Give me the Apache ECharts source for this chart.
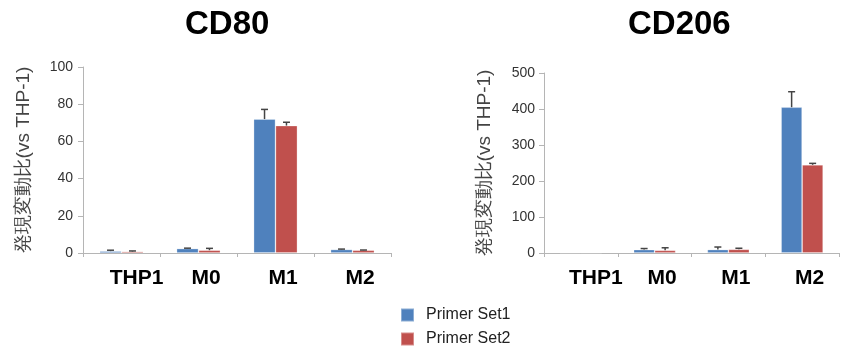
<!DOCTYPE html>
<html>
<head>
<meta charset="utf-8">
<script src="https://cdn.jsdelivr.net/npm/echarts@6/dist/echarts.min.js"></script>
<style>
  html, body { margin: 0; padding: 0; background: #fff; }
  #chart { width: 843px; height: 347px; }
</style>
</head>
<body>
<div id="chart"></div>
<script>
// ---- data ----
const categories = ['THP1', 'M0', 'M1', 'M2'];
const seriesNames = ['Primer Set1', 'Primer Set2'];

const cd80Set1 = [1.0, 2.4, 72.0, 1.9];
const cd80Set2 = [0.8, 1.5, 68.5, 1.5];
const cd80Err1 = [0.5, 0.2, 5.2, 0.2];
const cd80Err2 = [0.3, 1.0, 1.8, 0.1];

const cd206Set1 = [1.0, 9.4, 9.6, 405];
const cd206Set2 = [1.0, 7.5, 10.2, 245];
const cd206Err1 = [0, 3.0, 7.0, 43];
const cd206Err2 = [0, 7.0, 3.0, 4];

const cd80Ticks = { min: 0, max: 100, interval: 20 };
const cd206Ticks = { min: 0, max: 500, interval: 100 };

const titles = ['CD80', 'CD206'];
const yAxisName = '発現変動比(vs THP-1)';

// ---- styling ----
const BLUE = '#4F81BD';
const RED = '#C0504D';
const BAR_FRAC = 0.285;
const FONT = 'Liberation Sans, Arial, Helvetica, sans-serif';

const chart = echarts.init(document.getElementById('chart'), null, { renderer: 'canvas' });

function errRender(sideSign) {
  return function (params, api) {
    const xi = api.value(0);
    const v = api.value(1);
    const e = api.value(2);
    if (!(e > 0)) return null;
    const base = api.coord([xi, v]);
    const top = api.coord([xi, v + e]);
    const band = api.size([1, 0])[0];
    const bw = band * BAR_FRAC;
    const cx = base[0] + sideSign * bw / 2;
    const cap = 3.5;
    return {
      type: 'group',
      children: [
        { type: 'line', shape: { x1: cx, y1: base[1], x2: cx, y2: top[1] },
          style: { stroke: '#444', lineWidth: 1.5 } },
        { type: 'line', shape: { x1: cx - cap, y1: top[1], x2: cx + cap, y2: top[1] },
          style: { stroke: '#444', lineWidth: 1.5 } }
      ]
    };
  };
}

const labelRich = {
  t: { fontSize: 21, fontWeight: 'bold', color: '#000', fontFamily: FONT, padding: [0, 0, 0, 30] },
  n: { fontSize: 21, fontWeight: 'bold', color: '#000', fontFamily: FONT, padding: [0, 0, 0, 15] }
};

function xAxis(gridIndex) {
  return {
    type: 'category',
    gridIndex: gridIndex,
    data: categories,
    axisLine: { lineStyle: { color: '#b5b5b5', width: 1 } },
    axisTick: { show: true, length: 4, lineStyle: { color: '#b5b5b5' } },
    axisLabel: {
      margin: 15,
      formatter: function (v, i) { return (i === 0 ? '{t|' : '{n|') + v + '}'; },
      rich: labelRich
    },
    splitLine: { show: false }
  };
}

function yAxis(gridIndex, ticks, labelMargin) {
  return {
    type: 'value',
    gridIndex: gridIndex,
    min: ticks.min, max: ticks.max, interval: ticks.interval,
    name: yAxisName,
    nameLocation: 'middle',
    nameGap: 50,
    nameRotate: 90,
    nameTextStyle: { fontSize: 19, color: '#444', fontFamily: FONT },
    axisLine: { show: true, lineStyle: { color: '#b5b5b5', width: 1 } },
    axisTick: { show: true, length: 5, lineStyle: { color: '#b5b5b5' } },
    axisLabel: { fontSize: 14, color: '#333', fontFamily: FONT, margin: labelMargin },
    splitLine: { show: false }
  };
}

function barSeries(name, data, idx, color) {
  return {
    name: name, type: 'bar', xAxisIndex: idx, yAxisIndex: idx,
    data: data, barWidth: (BAR_FRAC * 100) + '%', barGap: '0%',
    itemStyle: { color: color, borderColor: 'rgba(255,255,255,0.35)', borderWidth: 0.8 },
    z: 2
  };
}

function errSeries(vals, errs, idx, sign) {
  return {
    name: 'err' + idx + sign, type: 'custom', xAxisIndex: idx, yAxisIndex: idx,
    data: vals.map(function (v, i) { return [i, v, errs[i]]; }),
    encode: { x: 0, y: 1 },
    renderItem: errRender(sign),
    z: 3, silent: true
  };
}

const option = {
  animation: false,
  backgroundColor: '#fff',
  textStyle: { fontFamily: FONT },
  grid: [
    { left: 83, right: 452, top: 67, bottom: 94 },
    { left: 544, right: 4, top: 73, bottom: 94 }
  ],
  graphic: [
    { type: 'text', left: 227 - 42, top: 8,
      style: { text: titles[0], font: 'bold 33px ' + FONT, fill: '#000' } },
    { type: 'text', left: 679 - 51, top: 8,
      style: { text: titles[1], font: 'bold 33px ' + FONT, fill: '#000' } }
  ],
  legend: {
    data: seriesNames,
    orient: 'vertical',
    left: 400, top: 307,
    height: 40,
    padding: 0,
    itemWidth: 13, itemHeight: 13, itemGap: 8,
    icon: 'rect',
    textStyle: { fontSize: 16, lineHeight: 13, color: '#222', fontFamily: FONT, padding: [0, 0, 0, 7] }
  },
  xAxis: [xAxis(0), xAxis(1)],
  yAxis: [yAxis(0, cd80Ticks, 10), yAxis(1, cd206Ticks, 9)],
  series: [
    barSeries(seriesNames[0], cd80Set1, 0, BLUE),
    barSeries(seriesNames[1], cd80Set2, 0, RED),
    barSeries(seriesNames[0], cd206Set1, 1, BLUE),
    barSeries(seriesNames[1], cd206Set2, 1, RED),
    errSeries(cd80Set1, cd80Err1, 0, -1),
    errSeries(cd80Set2, cd80Err2, 0, 1),
    errSeries(cd206Set1, cd206Err1, 1, -1),
    errSeries(cd206Set2, cd206Err2, 1, 1)
  ]
};

chart.setOption(option);
</script>
</body>
</html>
